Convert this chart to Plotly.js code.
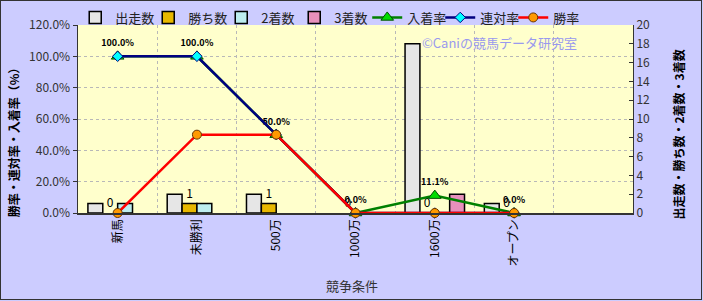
<!DOCTYPE html>
<html>
<head>
<meta charset="utf-8">
<script src="https://cdn.plot.ly/plotly-3.0.1.min.js"></script>
<style>
html,body{margin:0;padding:0;background:#fff;}
#wrap{position:relative;width:703px;height:301px;}
#chart{width:703px;height:301px;}
#frame{position:absolute;left:0;top:0;width:702px;height:300px;box-sizing:border-box;border:1px solid #333;pointer-events:none;}
</style>
</head>
<body>
<div id="wrap"><div id="chart"></div><div id="frame"></div></div>
<script>
// categories (7th slot is empty in the original)
const categories = ['新馬', '未勝利', '500万', '1000万', '1600万', 'オープン', ''];
// counts (right axis)
const runs   = [1, 2, 2, 0, 18, 1, null];   // 出走数
const wins   = [0, 1, 1, 0, 0, 0, null];    // 勝ち数
const second = [1, 1, 0, 0, 0, 0, null];    // 2着数
const third  = [0, 0, 0, 0, 2, 0, null];    // 3着数
// rates in percent (left axis)
const placeRate = [100, 100, 50, 0, 11.1, 0, null]; // 入着率
const quinRate  = [100, 100, 50, 0, 0, 0, null];    // 連対率
const winRate   = [0, 50, 50, 0, 0, 0, null];       // 勝率

const xs = categories.map((c, i) => i);
const FONT = '"Noto Sans CJK JP", "Noto Sans", sans-serif';

const barSeries = [
  {name: '出走数', vals: runs, color: '#E6E6E6', text: false},
  {name: '勝ち数', vals: wins, color: '#E8B800', text: true},
  {name: '2着数', vals: second, color: '#BDEDEF', text: false},
  {name: '3着数', vals: third, color: '#E890BC', text: false}
];

// legend-only entries (empty, on a hidden overlay axis) so legend symbols keep their outline
const legendBars = barSeries.map(s => ({
  type: 'bar', name: s.name, x: [null], y: [null], xaxis: 'x2', yaxis: 'y3',
  marker: {color: s.color, line: {color: '#000', width: 1.5}},
  showlegend: true, hoverinfo: 'skip'
}));

const bars = barSeries.map(s => {
  const t = {
    type: 'bar', name: s.name, x: xs, y: s.vals, yaxis: 'y', showlegend: false,
    marker: {color: s.color, line: {color: '#000', width: s.vals.map(v => v ? 1.5 : 0)}},
    hoverinfo: 'skip'
  };
  if (s.text) {
    t.text = s.vals.map(v => v === null ? '' : String(v));
    t.textposition = 'outside';
    t.textfont = {family: FONT, size: 12, color: '#000'};
    t.cliponaxis = false;
  } else {
    t.textposition = 'none';
  }
  return t;
});

const lines = [
  {
    type: 'scatter', mode: 'lines+markers+text', name: '入着率',
    x: xs, y: placeRate, yaxis: 'y2',
    line: {color: '#008000', width: 2.5},
    marker: {symbol: 'triangle-up', size: 11, color: '#00DD00', line: {color: '#005000', width: 1}},
    text: placeRate.map(v => v === null ? '' : v.toFixed(1) + '%'),
    textposition: 'top center',
    textfont: {family: FONT, size: 9, color: '#000', weight: 'bold'},
    cliponaxis: false, hoverinfo: 'skip'
  },
  {
    type: 'scatter', mode: 'lines+markers', name: '連対率',
    x: xs, y: quinRate, yaxis: 'y2',
    line: {color: '#000080', width: 2.5},
    marker: {symbol: 'diamond', size: 8, color: '#00FFFF', line: {color: '#000080', width: 1}},
    cliponaxis: false, hoverinfo: 'skip'
  },
  {
    type: 'scatter', mode: 'lines+markers', name: '勝率',
    x: xs, y: winRate, yaxis: 'y2',
    line: {color: '#FF0000', width: 2.5},
    marker: {symbol: 'circle', size: 9, color: '#FF9900', line: {color: '#663300', width: 1}},
    cliponaxis: false, hoverinfo: 'skip'
  }
];

const traces = legendBars.concat(bars, lines);

const layout = {
  width: 703, height: 301,
  margin: {l: 78, r: 70, t: 25, b: 88, pad: 0, autoexpand: false},
  paper_bgcolor: '#CCCCFF',
  plot_bgcolor: '#FFFFCC',
  font: {family: FONT, size: 12, color: '#333'},
  barmode: 'group', bargap: 0.25, bargroupgap: 0,
  showlegend: true,
  legend: {
    orientation: 'h', x: -0.005, xanchor: 'left', y: 1.04, yanchor: 'middle',
    bgcolor: 'rgba(0,0,0,0)', font: {family: FONT, size: 13, color: '#222'},
    itemwidth: 30, tracegroupgap: 0, entrywidth: 28, entrywidthmode: 'pixels'
  },
  xaxis: {
    range: [-0.5, 6.5],
    tickmode: 'array', tickvals: xs.slice(0, 6), ticktext: categories.slice(0, 6),
    tickangle: -90, ticks: '', showgrid: false, zeroline: false,
    showline: true, linecolor: '#333', linewidth: 1.5,
    tickfont: {family: FONT, size: 12, color: '#000'},
    minor: {tick0: 0.5, dtick: 1, showgrid: true, gridcolor: '#B8B8B8', griddash: 'dot', gridwidth: 1, ticks: ''}
  },
  xaxis2: {overlaying: 'x', visible: false, range: [-0.5, 6.5]},
  yaxis: {
    side: 'right', range: [0, 20], dtick: 2, tick0: 0,
    showgrid: false, zeroline: false,
    showline: true, linecolor: '#333', linewidth: 1,
    ticks: 'inside', ticklen: 4, tickcolor: '#333',
    tickfont: {family: FONT, size: 12, color: '#333'}
  },
  yaxis2: {
    overlaying: 'y', side: 'left', range: [0, 120], dtick: 20, tick0: 0,
    ticksuffix: '%', tickformat: '.1f',
    showgrid: true, gridcolor: '#B8B8B8', griddash: 'dot', gridwidth: 1,
    zeroline: false, showline: true, linecolor: '#333', linewidth: 1.5,
    ticks: 'outside', ticklen: 4, tickcolor: '#333',
    tickfont: {family: FONT, size: 12, color: '#333'}
  },
  yaxis3: {overlaying: 'y', visible: false, range: [0, 20]},
  annotations: [
    {text: '©Caniの競馬データ研究室', xref: 'paper', yref: 'paper', x: 0.617, y: 0.905,
     xanchor: 'left', yanchor: 'middle', showarrow: false,
     font: {family: FONT, size: 13, color: '#9999EE'}},
    {text: '競争条件', xref: 'paper', yref: 'paper', x: 0.494, y: -0.385,
     xanchor: 'center', yanchor: 'middle', showarrow: false,
     font: {family: FONT, size: 13, color: '#333'}},
    {text: '勝率・連対率・入着率（%）', xref: 'paper', yref: 'paper', x: -0.116, y: 0.39,
     xanchor: 'center', yanchor: 'middle', textangle: -90, showarrow: false,
     font: {family: FONT, size: 12, color: '#000', weight: 'bold'}},
    {text: '出走数・勝ち数・2着数・3着数', xref: 'paper', yref: 'paper', x: 1.082, y: 0.415,
     xanchor: 'center', yanchor: 'middle', textangle: -90, showarrow: false,
     font: {family: FONT, size: 12, color: '#000', weight: 'bold'}}
  ]
};

Plotly.newPlot('chart', traces, layout, {displayModeBar: false, staticPlot: true});
</script>
</body>
</html>
